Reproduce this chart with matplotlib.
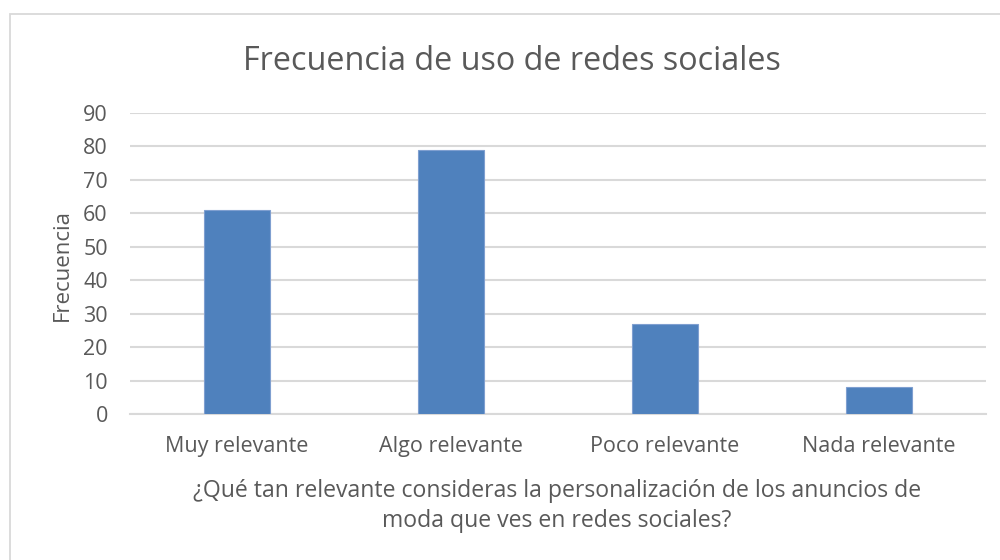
import matplotlib
matplotlib.use("Agg")
import matplotlib.pyplot as plt
from matplotlib.patches import Rectangle

categories = ["Muy relevante", "Algo relevante", "Poco relevante", "Nada relevante"]
frecuencias = [61, 79, 27, 8]
y_ticks = [0, 10, 20, 30, 40, 50, 60, 70, 80, 90]

titulo = "Frecuencia de uso de redes sociales"
eje_x = "¿Qué tan relevante consideras la personalización de los anuncios de\nmoda que ves en redes sociales?"
eje_y = "Frecuencia"

plt.rcParams["font.family"] = ["Open Sans", "DejaVu Sans"]
text_color = "#595959"
grid_color = "#d9d9d9"
bar_color = "#4f81bd"

fig = plt.figure(figsize=(10, 5.6), dpi=100)
fig.patch.set_facecolor("white")

# chart frame (runs past the right and bottom edges of the image)
fig.add_artist(Rectangle((10 / 1000, -0.05), 1.0, 1 - 14 / 560 + 0.05,
                         transform=fig.transFigure, fill=False,
                         edgecolor=grid_color, linewidth=1.3))

ax = fig.add_axes([130 / 1000, 1 - 414 / 560, 856 / 1000, (414 - 113) / 560 + 0.0001])
x = range(len(categories))
ax.bar(x, frecuencias, width=0.31, color=bar_color, edgecolor="#7f9fd0",
       linewidth=0.8, zorder=3)

ax.set_xlim(-0.5, len(categories) - 0.5)
ax.set_ylim(0, 90)
ax.set_yticks(y_ticks)
ax.set_xticks(list(x))
ax.set_xticklabels(categories)
ax.tick_params(axis="both", length=0, labelsize=15.5, colors=text_color)
ax.tick_params(axis="x", pad=16)
ax.tick_params(axis="y", pad=16)
ax.grid(axis="y", color=grid_color, linewidth=1.5, zorder=0)
for side in ["top", "right", "left"]:
    ax.spines[side].set_visible(False)
ax.spines["bottom"].set_color(grid_color)
ax.spines["bottom"].set_linewidth(1.5)

fig.text(512 / 1000, 1 - 62 / 560, titulo, ha="center", va="center",
         fontsize=23.3, color=text_color)
fig.text(62 / 1000, 1 - 265 / 560, eje_y, ha="center", va="center",
         rotation=90, fontsize=16, color=text_color)
fig.text(557 / 1000, 1 - 506 / 560, eje_x, ha="center", va="center",
         fontsize=16.6, color=text_color, linespacing=1.35)

fig.savefig("out.png", dpi=100, facecolor="white")
